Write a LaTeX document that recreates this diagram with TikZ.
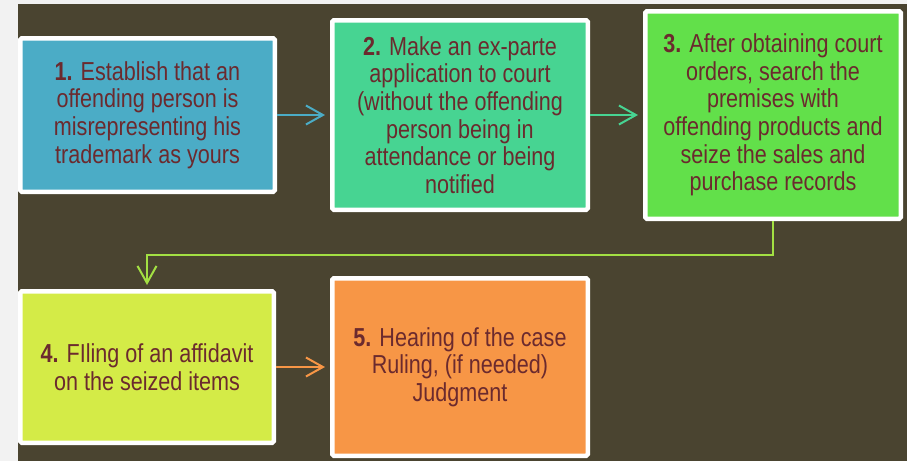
\documentclass[tikz,border=0pt]{standalone}
\usepackage{fontspec}
\setmainfont{Liberation Sans}[FakeStretch=0.83]
\usetikzlibrary{arrows.meta}
\definecolor{bgdark}{HTML}{4A4430}
\definecolor{bglight}{HTML}{F2F2F2}
\definecolor{txt}{HTML}{6B2A2E}
\definecolor{cA}{HTML}{4BACC6}
\definecolor{cB}{HTML}{47D492}
\definecolor{cC}{HTML}{62E04A}
\definecolor{cD}{HTML}{D4EB47}
\definecolor{cE}{HTML}{F79646}
\definecolor{cLink}{HTML}{A3E043}
\tikzset{
  stepbox/.style={draw=white, line width=4.5pt, rounded corners=1.5pt, align=center,
    text=txt, inner sep=0pt, font=\fontsize{26}{27.6}\selectfont},
  link/.style={line width=2pt, -{Straight Barb[length=17pt,width=19pt]}, shorten >=5pt}
}
\begin{document}
\begin{tikzpicture}[x=1pt,y=-1pt]
\useasboundingbox (0,0) rectangle (907,461);
\fill[bglight] (0,0) rectangle (907,461);
\fill[bgdark] (18,4) rectangle (907,461);

\node[stepbox, fill=cA, minimum width=254.5pt, minimum height=153.5pt] (b1) at (147.5,115)
  {\textbf{1.} Establish that an\\offending person is\\misrepresenting his\\trademark as yours};
\node[stepbox, fill=cB, minimum width=255.5pt, minimum height=189.5pt] (b2) at (460,115)
  {\textbf{2.} Make an ex-parte\\application to court\\(without the offending\\person being in\\attendance or being\\notified};
\node[stepbox, fill=cC, minimum width=255.5pt, minimum height=207.5pt] (b3) at (773,115)
  {\textbf{3.} After obtaining court\\orders, search the\\premises with\\offending products and\\seize the sales and\\purchase records};
\node[stepbox, fill=cD, minimum width=253.5pt, minimum height=151.5pt] (b4) at (147,367)
  {\textbf{4.} FIling of an affidavit\\on the seized items};
\node[stepbox, fill=cE, minimum width=255.5pt, minimum height=177.5pt] (b5) at (460,367)
  {\textbf{5.} Hearing of the case\\Ruling, (if needed)\\Judgment};

\coordinate (k) at (147,255);
\draw[link, cA] (b1.east) -- (b1.east -| b2.west);
\draw[link, cB] (b2.east) -- (b2.east -| b3.west);
\draw[link, cLink, shorten >=4pt] (b3.south) |- (k) -- (b4.north);
\draw[link, cE] (b4.east) -- (b4.east -| b5.west);
\end{tikzpicture}
\end{document}
